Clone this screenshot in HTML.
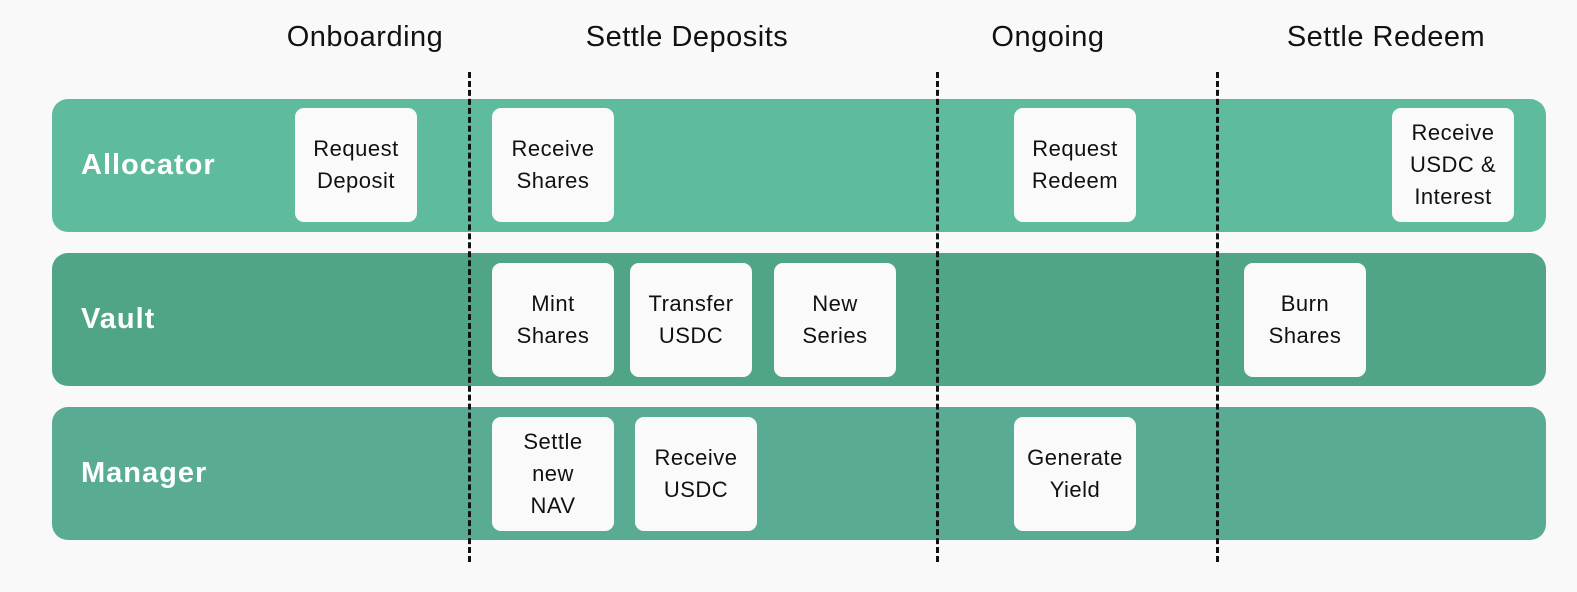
<!DOCTYPE html>
<html style="overflow:hidden"><head><style>
html,body{margin:0;padding:0}
body{width:1577px;height:592px;background:#f9f9f9;position:relative;overflow:hidden;font-family:"Liberation Sans",sans-serif}
.h{position:absolute;top:21px;font-size:29px;color:#111;transform:translateX(-50%);white-space:nowrap;letter-spacing:0.5px}
.lane{position:absolute;left:52px;width:1494px;height:133px;border-radius:16px}
.lt{position:absolute;left:81px;font-size:29px;font-weight:bold;color:#fff;letter-spacing:1px}
.b{position:absolute;width:122px;height:114px;background:#fafafa;border-radius:9px;display:flex;align-items:center;justify-content:center;text-align:center;font-size:22px;line-height:32px;color:#111;letter-spacing:0.5px}
.d{position:absolute;top:72px;height:490px;width:0;border-left:3px dashed #111}
</style></head><body>
<div class="h" style="left:365px">Onboarding</div>
<div class="h" style="left:687px">Settle Deposits</div>
<div class="h" style="left:1048px">Ongoing</div>
<div class="h" style="left:1386px">Settle Redeem</div>
<div class="lane" style="top:99px;background:#5fbb9e"></div>
<div class="lane" style="top:253px;background:#50a586"></div>
<div class="lane" style="top:407px;background:#5aab94"></div>
<div class="lt" style="top:149px">Allocator</div>
<div class="lt" style="top:303px">Vault</div>
<div class="lt" style="top:457px">Manager</div>
<div class="b" style="left:295px;top:108px">Request<br>Deposit</div>
<div class="b" style="left:492px;top:108px">Receive<br>Shares</div>
<div class="b" style="left:1014px;top:108px">Request<br>Redeem</div>
<div class="b" style="left:1392px;top:108px">Receive<br>USDC &amp;<br>Interest</div>
<div class="b" style="left:492px;top:263px">Mint<br>Shares</div>
<div class="b" style="left:630px;top:263px">Transfer<br>USDC</div>
<div class="b" style="left:774px;top:263px">New<br>Series</div>
<div class="b" style="left:1244px;top:263px">Burn<br>Shares</div>
<div class="b" style="left:492px;top:417px">Settle<br>new<br>NAV</div>
<div class="b" style="left:635px;top:417px">Receive<br>USDC</div>
<div class="b" style="left:1014px;top:417px">Generate<br>Yield</div>
<div class="d" style="left:468px"></div>
<div class="d" style="left:936px"></div>
<div class="d" style="left:1216px"></div>
</body></html>
